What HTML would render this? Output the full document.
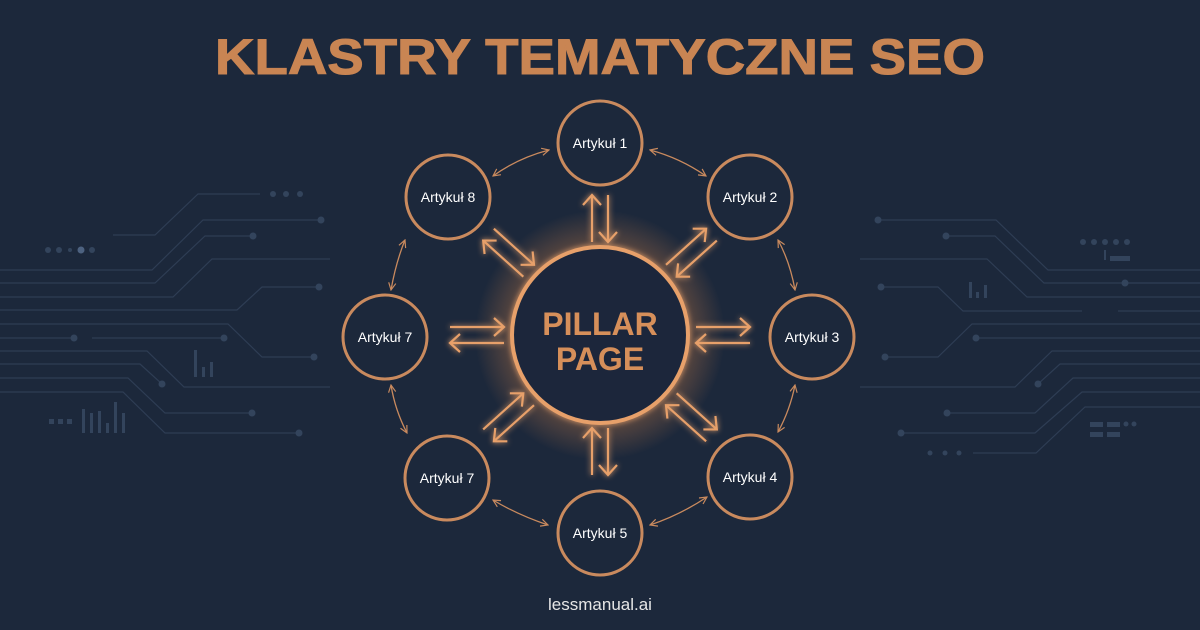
<!DOCTYPE html>
<html><head><meta charset="utf-8"><style>
html,body{margin:0;padding:0;background:#1c283b}
svg{display:block}
</style></head><body>
<svg width="1200" height="630" viewBox="0 0 1200 630" xmlns="http://www.w3.org/2000/svg">
<defs>
<radialGradient id="glow" cx="50%" cy="50%" r="50%">
<stop offset="0.6" stop-color="#e08a4a" stop-opacity="0"/>
<stop offset="0.72" stop-color="#e08a4a" stop-opacity="0.3"/>
<stop offset="1" stop-color="#e08a4a" stop-opacity="0"/>
</radialGradient>
<filter id="gl" x="-50%" y="-50%" width="200%" height="200%">
<feGaussianBlur stdDeviation="3" result="b"/>
<feMerge><feMergeNode in="b"/><feMergeNode in="SourceGraphic"/></feMerge>
</filter>
<marker id="ah" viewBox="0 0 10 10" refX="9" refY="5" markerWidth="9" markerHeight="9" orient="auto-start-reverse" markerUnits="userSpaceOnUse">
<polyline points="1,1 9,5 1,9" fill="none" stroke="#c98a5e" stroke-width="1.3"/>
</marker>
<g id="sp">
<line x1="96" y1="-8" x2="150" y2="-8" />
<polyline points="140,-17 150,-8 140,1" />
<line x1="96" y1="8" x2="150" y2="8" />
<polyline points="106,-1 96,8 106,17" />
</g>
<g id="spv">
<line x1="93" y1="-8" x2="140" y2="-8" />
<polyline points="130,-17 140,-8 130,1" />
<line x1="93" y1="8" x2="140" y2="8" />
<polyline points="103,-1 93,8 103,17" />
</g>
</defs>
<rect width="1200" height="630" fill="#1c283b"/>
<g fill="none" stroke="#2e3d54" stroke-width="1.2">
<polyline points="113,235 155,235 198,194 260,194"/>
<polyline points="0,270 152,270 203,220 321,220"/>
<polyline points="0,283 155,283 205,236 253,236"/>
<polyline points="0,297 173,297 212,259 330,259"/>
<polyline points="0,310 237,310 262,287 319,287"/>
<polyline points="0,324 228,324 262,357 314,357"/>
<polyline points="0,338 74,338"/><polyline points="92,338 224,338"/>
<polyline points="0,351 147,351 184,387 330,387"/>
<polyline points="0,364 140,364 162,384"/>
<polyline points="0,378 128,378 165,413 252,413"/>
<polyline points="0,392 123,392 165,433 299,433"/>
<polyline points="878,220 996,220 1048,270 1200,270"/>
<polyline points="946,236 995,236 1044,283 1200,283"/>
<polyline points="860,259 987,259 1027,297 1200,297"/>
<polyline points="881,287 938,287 963,311 1082,311"/>
<polyline points="1125,283 1200,283"/>
<polyline points="1118,311 1200,311"/>
<polyline points="885,357 938,357 972,324 1200,324"/>
<polyline points="976,338 1200,338"/>
<polyline points="860,387 1015,387 1052,351 1200,351"/>
<polyline points="1038,384 1060,364 1200,364"/>
<polyline points="947,413 1035,413 1073,378 1200,378"/>
<polyline points="901,433 1035,433 1082,392 1200,392"/>
<polyline points="973,453 1036,453 1085,407 1200,407"/>
</g>
<g fill="#33445c">
<circle cx="273" cy="194" r="3"/><circle cx="286" cy="194" r="3"/><circle cx="300" cy="194" r="3"/>
<circle cx="321" cy="220" r="3.5"/><circle cx="253" cy="236" r="3.5"/><circle cx="319" cy="287" r="3.5"/>
<circle cx="314" cy="357" r="3.5"/><circle cx="74" cy="338" r="3.5"/><circle cx="224" cy="338" r="3.5"/>
<circle cx="162" cy="384" r="3.5"/><circle cx="252" cy="413" r="3.5"/><circle cx="299" cy="433" r="3.5"/>
<circle cx="48" cy="250" r="3"/><circle cx="59" cy="250" r="3"/><circle cx="70" cy="250" r="2"/><circle cx="92" cy="250" r="3"/>
<circle cx="81" cy="250" r="3.5" fill="#4d6280"/>
<rect x="194" y="350" width="3" height="27"/><rect x="202" y="367" width="3" height="10"/><rect x="210" y="362" width="3" height="15"/>
<rect x="82" y="409" width="3" height="24"/><rect x="90" y="413" width="3" height="20"/><rect x="98" y="411" width="3" height="22"/><rect x="106" y="423" width="3" height="10"/><rect x="114" y="402" width="3" height="31"/><rect x="122" y="413" width="3" height="20"/>
<rect x="49" y="419" width="5" height="5"/><rect x="58" y="419" width="5" height="5"/><rect x="67" y="419" width="5" height="5"/>
<circle cx="878" cy="220" r="3.5"/><circle cx="946" cy="236" r="3.5"/><circle cx="881" cy="287" r="3.5"/>
<circle cx="885" cy="357" r="3.5"/><circle cx="976" cy="338" r="3.5"/><circle cx="1038" cy="384" r="3.5"/>
<circle cx="947" cy="413" r="3.5"/><circle cx="901" cy="433" r="3.5"/><circle cx="1125" cy="283" r="3.5"/>
<circle cx="930" cy="453" r="2.5"/><circle cx="945" cy="453" r="2.5"/><circle cx="959" cy="453" r="2.5"/>
<circle cx="1083" cy="242" r="3"/><circle cx="1094" cy="242" r="3"/><circle cx="1105" cy="242" r="3"/><circle cx="1116" cy="242" r="3"/><circle cx="1127" cy="242" r="3"/>
<rect x="1104" y="250" width="2" height="10"/><rect x="1110" y="256" width="20" height="5"/>
<rect x="969" y="282" width="3" height="16"/><rect x="976" y="292" width="3" height="6"/><rect x="984" y="285" width="3" height="13"/>
<rect x="1090" y="422" width="13" height="5"/><rect x="1107" y="422" width="13" height="5"/><circle cx="1126" cy="424" r="2.5"/><circle cx="1134" cy="424" r="2.5"/>
<rect x="1090" y="432" width="13" height="5"/><rect x="1107" y="432" width="13" height="5"/>
</g>
<text x="215" y="74" textLength="770" lengthAdjust="spacingAndGlyphs" font-family="Liberation Sans, sans-serif" font-weight="bold" font-size="50" fill="#c98553" stroke="#c98553" stroke-width="1">KLASTRY TEMATYCZNE SEO</text>
<circle cx="600" cy="335" r="125" fill="url(#glow)"/>
<g fill="none" stroke="#e7a06a" stroke-width="2.2" filter="url(#gl)">
<use href="#sp" transform="translate(600,335) rotate(0)"/>
<use href="#sp" transform="translate(600,335) rotate(180)"/>
<use href="#sp" transform="translate(600,335) rotate(-42)"/>
<use href="#sp" transform="translate(600,335) rotate(42)"/>
<use href="#sp" transform="translate(600,335) rotate(138)"/>
<use href="#sp" transform="translate(600,335) rotate(-138)"/>
<use href="#spv" transform="translate(600,335) rotate(90)"/>
<use href="#spv" transform="translate(600,335) rotate(-90)"/>
</g>
<g fill="none" stroke="#c98a5e" stroke-width="1.3" marker-start="url(#ah)" marker-end="url(#ah)">
<path d="M650,150 Q680,158 706,176"/>
<path d="M778,240 Q790,262 795,290"/>
<path d="M795,385 Q790,410 778,432"/>
<path d="M707,497 Q680,515 650,525"/>
<path d="M548,525 Q518,515 493,500"/>
<path d="M407,433 Q395,410 391,385"/>
<path d="M391,290 Q396,262 405,240"/>
<path d="M493,176 Q518,158 549,150"/>
</g>
<circle cx="600" cy="335" r="88" fill="#1c283b" stroke="#e7a06a" stroke-width="4" filter="url(#gl)"/>
<g font-family="Liberation Sans, sans-serif" font-weight="bold" font-size="32" fill="#d68f5a" text-anchor="middle">
<text x="600" y="335">PILLAR</text><text x="600" y="370">PAGE</text></g>
<g fill="#1c283b" stroke="#c98a5e" stroke-width="3">
<circle cx="600" cy="143" r="42"/><circle cx="750" cy="197" r="42"/><circle cx="812" cy="337" r="42"/>
<circle cx="750" cy="477" r="42"/><circle cx="600" cy="533" r="42"/><circle cx="447" cy="478" r="42"/>
<circle cx="385" cy="337" r="42"/><circle cx="448" cy="197" r="42"/>
</g>
<g font-family="Liberation Sans, sans-serif" font-size="14" fill="#ffffff" text-anchor="middle">
<text x="600" y="148">Artykuł 1</text><text x="750" y="202">Artykuł 2</text><text x="812" y="342">Artykuł 3</text>
<text x="750" y="482">Artykuł 4</text><text x="600" y="538">Artykuł 5</text><text x="447" y="483">Artykuł 7</text>
<text x="385" y="342">Artykuł 7</text><text x="448" y="202">Artykuł 8</text>
</g>
<text x="600" y="610" text-anchor="middle" font-family="Liberation Sans, sans-serif" font-size="17" fill="#e6e6e6">lessmanual.ai</text>
</svg>
</body></html>
